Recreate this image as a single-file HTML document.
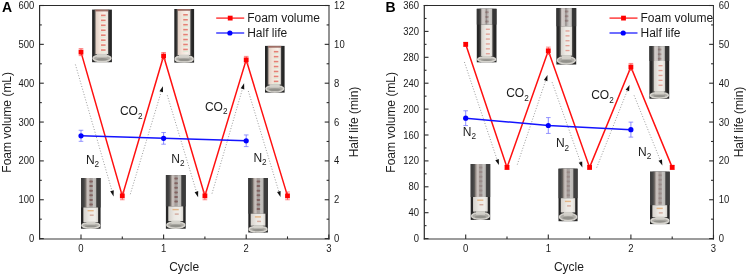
<!DOCTYPE html>
<html><head><meta charset="utf-8"><title>Foam volume and half life vs cycle</title>
<style>
html,body{margin:0;padding:0;background:#fff;}
body{width:747px;height:275px;overflow:hidden;font-family:"Liberation Sans",sans-serif;}
svg{display:block;filter:blur(0.3px);}
</style></head><body>
<svg width="747" height="275" viewBox="0 0 747 275" font-family='"Liberation Sans", sans-serif'><defs>
<linearGradient id="gFoamA" x1="0" x2="1" y1="0" y2="0">
  <stop offset="0" stop-color="#e2cfc4"/>
  <stop offset="0.35" stop-color="#f3e4da"/>
  <stop offset="0.75" stop-color="#f8f1ea"/>
  <stop offset="1" stop-color="#e6e0da"/>
</linearGradient>
<linearGradient id="gFoamB" x1="0" x2="1" y1="0" y2="0">
  <stop offset="0" stop-color="#d6d2cc"/>
  <stop offset="0.4" stop-color="#ece9e4"/>
  <stop offset="0.8" stop-color="#f0eee9"/>
  <stop offset="1" stop-color="#d8d5d0"/>
</linearGradient>
<linearGradient id="gEmpty" x1="0" x2="1" y1="0" y2="0">
  <stop offset="0" stop-color="#7a726c"/>
  <stop offset="0.2" stop-color="#c8c0bc"/>
  <stop offset="0.32" stop-color="#c4bcb8"/>
  <stop offset="0.42" stop-color="#a49c98"/>
  <stop offset="0.62" stop-color="#a8a2a0"/>
  <stop offset="0.72" stop-color="#c4c2bf"/>
  <stop offset="0.92" stop-color="#bab8b5"/>
  <stop offset="1" stop-color="#7a7876"/>
</linearGradient>
<linearGradient id="gEmptyL" x1="0" x2="1" y1="0" y2="0">
  <stop offset="0" stop-color="#b0aaa8"/>
  <stop offset="0.15" stop-color="#d2ccc9"/>
  <stop offset="0.35" stop-color="#c8c2bf"/>
  <stop offset="0.45" stop-color="#8a8482"/>
  <stop offset="0.55" stop-color="#b4aeac"/>
  <stop offset="0.75" stop-color="#d0cecb"/>
  <stop offset="0.92" stop-color="#c4c2bf"/>
  <stop offset="1" stop-color="#858381"/>
</linearGradient>
<linearGradient id="gWallL" x1="0" x2="1" y1="0" y2="0">
  <stop offset="0" stop-color="#555" stop-opacity="0"/>
  <stop offset="1" stop-color="#6a6662" stop-opacity="0.9"/>
</linearGradient>
<linearGradient id="gWallR" x1="0" x2="1" y1="0" y2="0">
  <stop offset="0" stop-color="#5a5856" stop-opacity="0.8"/>
  <stop offset="1" stop-color="#444" stop-opacity="0"/>
</linearGradient>
<linearGradient id="gBase" x1="0" x2="0" y1="0" y2="1">
  <stop offset="0" stop-color="#bcbab2"/>
  <stop offset="0.28" stop-color="#d6d4cc"/>
  <stop offset="0.55" stop-color="#9a9890"/>
  <stop offset="0.8" stop-color="#cccac2"/>
  <stop offset="1" stop-color="#9c9a94"/>
</linearGradient>
</defs><rect width="747" height="275" fill="#fff"/><g><rect x="92.1" y="9.6" width="19.8" height="52.6" fill="#262626"/><rect x="93.61" y="9.6" width="1.85" height="52.6" fill="url(#gWallL)"/><rect x="108.14" y="9.6" width="1.88" height="52.6" fill="url(#gWallR)"/><rect x="95.47" y="9.6" width="12.67" height="44.6" fill="url(#gFoamA)"/><rect x="101.04" y="14.6" width="4.56" height="1.6" fill="#dc5e50" opacity="0.75"/><rect x="100.79" y="16.8" width="5.07" height="1.2" fill="#cfe8cf" opacity="0.6"/><rect x="101.04" y="19.55" width="4.56" height="1.6" fill="#dc5e50" opacity="0.75"/><rect x="100.79" y="21.75" width="5.07" height="1.2" fill="#cfe8cf" opacity="0.6"/><rect x="101.04" y="24.5" width="4.56" height="1.6" fill="#dc5e50" opacity="0.75"/><rect x="100.79" y="26.7" width="5.07" height="1.2" fill="#cfe8cf" opacity="0.6"/><rect x="101.04" y="29.45" width="4.56" height="1.6" fill="#dc5e50" opacity="0.75"/><rect x="100.79" y="31.65" width="5.07" height="1.2" fill="#cfe8cf" opacity="0.6"/><rect x="101.04" y="34.4" width="4.56" height="1.6" fill="#dc5e50" opacity="0.75"/><rect x="100.79" y="36.6" width="5.07" height="1.2" fill="#cfe8cf" opacity="0.6"/><rect x="101.04" y="39.35" width="4.56" height="1.6" fill="#dc5e50" opacity="0.75"/><rect x="100.79" y="41.55" width="5.07" height="1.2" fill="#cfe8cf" opacity="0.6"/><rect x="101.04" y="44.3" width="4.56" height="1.6" fill="#dc5e50" opacity="0.75"/><rect x="100.79" y="46.5" width="5.07" height="1.2" fill="#cfe8cf" opacity="0.6"/><rect x="101.04" y="49.25" width="4.56" height="1.6" fill="#dc5e50" opacity="0.75"/><rect x="100.79" y="51.45" width="5.07" height="1.2" fill="#cfe8cf" opacity="0.6"/><rect x="95.47" y="9.6" width="12.67" height="1.8" fill="#7a3a32" opacity="0.7"/><ellipse cx="102" cy="58.36" rx="9" ry="3.3" fill="#aeaca6" stroke="#d6d4ce" stroke-width="1.5"/><rect x="96.73" y="53.7" width="10.14" height="3.6" fill="#d4d1cb" opacity="0.9"/><ellipse cx="102" cy="59.32" rx="5.94" ry="1.28" fill="#6a6864" opacity="0.4"/></g>
<g><rect x="174.3" y="9" width="19.8" height="53.6" fill="#262626"/><rect x="175.81" y="9" width="1.85" height="53.6" fill="url(#gWallL)"/><rect x="190.34" y="9" width="1.88" height="53.6" fill="url(#gWallR)"/><rect x="177.67" y="9" width="12.67" height="46" fill="url(#gFoamA)"/><rect x="183.24" y="14" width="4.56" height="1.6" fill="#dc5e50" opacity="0.75"/><rect x="182.99" y="16.2" width="5.07" height="1.2" fill="#cfe8cf" opacity="0.6"/><rect x="183.24" y="18.95" width="4.56" height="1.6" fill="#dc5e50" opacity="0.75"/><rect x="182.99" y="21.15" width="5.07" height="1.2" fill="#cfe8cf" opacity="0.6"/><rect x="183.24" y="23.9" width="4.56" height="1.6" fill="#dc5e50" opacity="0.75"/><rect x="182.99" y="26.1" width="5.07" height="1.2" fill="#cfe8cf" opacity="0.6"/><rect x="183.24" y="28.85" width="4.56" height="1.6" fill="#dc5e50" opacity="0.75"/><rect x="182.99" y="31.05" width="5.07" height="1.2" fill="#cfe8cf" opacity="0.6"/><rect x="183.24" y="33.8" width="4.56" height="1.6" fill="#dc5e50" opacity="0.75"/><rect x="182.99" y="36" width="5.07" height="1.2" fill="#cfe8cf" opacity="0.6"/><rect x="183.24" y="38.75" width="4.56" height="1.6" fill="#dc5e50" opacity="0.75"/><rect x="182.99" y="40.95" width="5.07" height="1.2" fill="#cfe8cf" opacity="0.6"/><rect x="183.24" y="43.7" width="4.56" height="1.6" fill="#dc5e50" opacity="0.75"/><rect x="182.99" y="45.9" width="5.07" height="1.2" fill="#cfe8cf" opacity="0.6"/><rect x="183.24" y="48.65" width="4.56" height="1.6" fill="#dc5e50" opacity="0.75"/><rect x="182.99" y="50.85" width="5.07" height="1.2" fill="#cfe8cf" opacity="0.6"/><rect x="177.67" y="9" width="12.67" height="1.8" fill="#7a3a32" opacity="0.7"/><ellipse cx="184.2" cy="58.95" rx="9" ry="3.1" fill="#aeaca6" stroke="#d6d4ce" stroke-width="1.5"/><rect x="178.93" y="54.5" width="10.14" height="3.42" fill="#d4d1cb" opacity="0.9"/><ellipse cx="184.2" cy="59.86" rx="5.94" ry="1.22" fill="#6a6864" opacity="0.4"/></g>
<g><rect x="265" y="45.9" width="19.6" height="46.7" fill="#262626"/><rect x="266.5" y="45.9" width="1.83" height="46.7" fill="url(#gWallL)"/><rect x="280.88" y="45.9" width="1.86" height="46.7" fill="url(#gWallR)"/><rect x="268.33" y="45.9" width="12.54" height="38.7" fill="url(#gFoamA)"/><rect x="273.85" y="50.9" width="4.52" height="1.6" fill="#dc5e50" opacity="0.75"/><rect x="273.6" y="53.1" width="5.02" height="1.2" fill="#cfe8cf" opacity="0.6"/><rect x="273.85" y="55.85" width="4.52" height="1.6" fill="#dc5e50" opacity="0.75"/><rect x="273.6" y="58.05" width="5.02" height="1.2" fill="#cfe8cf" opacity="0.6"/><rect x="273.85" y="60.8" width="4.52" height="1.6" fill="#dc5e50" opacity="0.75"/><rect x="273.6" y="63" width="5.02" height="1.2" fill="#cfe8cf" opacity="0.6"/><rect x="273.85" y="65.75" width="4.52" height="1.6" fill="#dc5e50" opacity="0.75"/><rect x="273.6" y="67.95" width="5.02" height="1.2" fill="#cfe8cf" opacity="0.6"/><rect x="273.85" y="70.7" width="4.52" height="1.6" fill="#dc5e50" opacity="0.75"/><rect x="273.6" y="72.9" width="5.02" height="1.2" fill="#cfe8cf" opacity="0.6"/><rect x="273.85" y="75.65" width="4.52" height="1.6" fill="#dc5e50" opacity="0.75"/><rect x="273.6" y="77.85" width="5.02" height="1.2" fill="#cfe8cf" opacity="0.6"/><rect x="273.85" y="80.6" width="4.52" height="1.6" fill="#dc5e50" opacity="0.75"/><rect x="273.6" y="82.8" width="5.02" height="1.2" fill="#cfe8cf" opacity="0.6"/><rect x="268.33" y="45.9" width="12.54" height="1.8" fill="#7a3a32" opacity="0.7"/><ellipse cx="274.8" cy="88.76" rx="8.9" ry="3.3" fill="#aeaca6" stroke="#d6d4ce" stroke-width="1.5"/><rect x="269.59" y="84.1" width="10.04" height="3.6" fill="#d4d1cb" opacity="0.9"/><ellipse cx="274.8" cy="89.72" rx="5.88" ry="1.28" fill="#6a6864" opacity="0.4"/></g>
<g><rect x="81" y="178" width="19.6" height="50.7" fill="#262626"/><rect x="82.94" y="178" width="2.37" height="50.7" fill="url(#gWallL)"/><rect x="96.48" y="178" width="2.06" height="50.7" fill="url(#gWallR)"/><rect x="81" y="178" width="19.6" height="29.5" fill="#3c3c3c"/><rect x="82.94" y="178" width="2.37" height="29.5" fill="url(#gWallL)"/><rect x="85.31" y="178" width="11.17" height="29.5" fill="url(#gEmpty)"/><rect x="89.33" y="180.5" width="3.58" height="2" rx="0.8" fill="#6a3c3a" opacity="0.6"/><rect x="89.33" y="185.1" width="3.58" height="2" rx="0.8" fill="#6a3c3a" opacity="0.6"/><rect x="89.33" y="189.7" width="3.58" height="2" rx="0.8" fill="#6a3c3a" opacity="0.6"/><rect x="89.33" y="194.3" width="3.58" height="2" rx="0.8" fill="#6a3c3a" opacity="0.6"/><rect x="89.33" y="198.9" width="3.58" height="2" rx="0.8" fill="#6a3c3a" opacity="0.6"/><rect x="89.33" y="203.5" width="3.58" height="2" rx="0.8" fill="#6a3c3a" opacity="0.6"/><rect x="83.37" y="207.5" width="14.76" height="14.5" fill="url(#gFoamB)"/><rect x="87.55" y="210" width="6.14" height="1.4" fill="#e0a060" opacity="0.7"/><rect x="89.78" y="214.5" width="3.91" height="1.4" fill="#c89080" opacity="0.7"/><ellipse cx="90.8" cy="225.48" rx="8.9" ry="2.65" fill="#aeaca6" stroke="#d6d4ce" stroke-width="1.5"/><rect x="86.43" y="221.5" width="8.94" height="3.01" fill="#d4d1cb" opacity="0.9"/><ellipse cx="90.8" cy="226.29" rx="5.88" ry="1.07" fill="#6a6864" opacity="0.4"/></g>
<g><rect x="165.9" y="175.1" width="19.8" height="53.6" fill="#262626"/><rect x="167.86" y="175.1" width="2.4" height="53.6" fill="url(#gWallL)"/><rect x="181.54" y="175.1" width="2.08" height="53.6" fill="url(#gWallR)"/><rect x="165.9" y="175.1" width="19.8" height="31.3" fill="#3c3c3c"/><rect x="167.86" y="175.1" width="2.4" height="31.3" fill="url(#gWallL)"/><rect x="170.26" y="175.1" width="11.29" height="31.3" fill="url(#gEmpty)"/><rect x="174.32" y="177.6" width="3.61" height="2" rx="0.8" fill="#6a3c3a" opacity="0.6"/><rect x="174.32" y="182.2" width="3.61" height="2" rx="0.8" fill="#6a3c3a" opacity="0.6"/><rect x="174.32" y="186.8" width="3.61" height="2" rx="0.8" fill="#6a3c3a" opacity="0.6"/><rect x="174.32" y="191.4" width="3.61" height="2" rx="0.8" fill="#6a3c3a" opacity="0.6"/><rect x="174.32" y="196" width="3.61" height="2" rx="0.8" fill="#6a3c3a" opacity="0.6"/><rect x="174.32" y="200.6" width="3.61" height="2" rx="0.8" fill="#6a3c3a" opacity="0.6"/><rect x="168.3" y="206.4" width="14.91" height="14.6" fill="url(#gFoamB)"/><rect x="172.51" y="208.9" width="6.21" height="1.4" fill="#e0a060" opacity="0.7"/><rect x="174.77" y="213.4" width="3.95" height="1.4" fill="#c89080" opacity="0.7"/><ellipse cx="175.8" cy="225" rx="9" ry="3.15" fill="#aeaca6" stroke="#d6d4ce" stroke-width="1.5"/><rect x="171.38" y="220.5" width="9.03" height="3.46" fill="#d4d1cb" opacity="0.9"/><ellipse cx="175.8" cy="225.93" rx="5.94" ry="1.23" fill="#6a6864" opacity="0.4"/></g>
<g><rect x="248.3" y="178" width="19.6" height="54.5" fill="#262626"/><rect x="250.24" y="178" width="2.37" height="54.5" fill="url(#gWallL)"/><rect x="263.78" y="178" width="2.06" height="54.5" fill="url(#gWallR)"/><rect x="248.3" y="178" width="19.6" height="35.7" fill="#3c3c3c"/><rect x="250.24" y="178" width="2.37" height="35.7" fill="url(#gWallL)"/><rect x="252.61" y="178" width="11.17" height="35.7" fill="url(#gEmpty)"/><rect x="256.63" y="180.5" width="3.58" height="2" rx="0.8" fill="#6a3c3a" opacity="0.6"/><rect x="256.63" y="185.1" width="3.58" height="2" rx="0.8" fill="#6a3c3a" opacity="0.6"/><rect x="256.63" y="189.7" width="3.58" height="2" rx="0.8" fill="#6a3c3a" opacity="0.6"/><rect x="256.63" y="194.3" width="3.58" height="2" rx="0.8" fill="#6a3c3a" opacity="0.6"/><rect x="256.63" y="198.9" width="3.58" height="2" rx="0.8" fill="#6a3c3a" opacity="0.6"/><rect x="256.63" y="203.5" width="3.58" height="2" rx="0.8" fill="#6a3c3a" opacity="0.6"/><rect x="256.63" y="208.1" width="3.58" height="2" rx="0.8" fill="#6a3c3a" opacity="0.6"/><rect x="250.67" y="213.7" width="14.76" height="12" fill="url(#gFoamB)"/><rect x="254.85" y="216.2" width="6.14" height="1.4" fill="#e0a060" opacity="0.7"/><rect x="257.08" y="220.7" width="3.91" height="1.4" fill="#c89080" opacity="0.7"/><ellipse cx="258.1" cy="229.24" rx="8.9" ry="2.7" fill="#aeaca6" stroke="#d6d4ce" stroke-width="1.5"/><rect x="253.73" y="225.2" width="8.94" height="3.06" fill="#d4d1cb" opacity="0.9"/><ellipse cx="258.1" cy="230.05" rx="5.88" ry="1.09" fill="#6a6864" opacity="0.4"/></g>
<line x1="39" y1="5.5" x2="329.55" y2="5.5" stroke="#2b2b2b" stroke-width="1.2" />
<line x1="39.6" y1="4.9" x2="39.6" y2="239.55" stroke="#2b2b2b" stroke-width="1.2" />
<line x1="39" y1="239" x2="329.55" y2="239" stroke="#3a3a3a" stroke-width="1.1" />
<line x1="329" y1="4.9" x2="329" y2="239.55" stroke="#3a3a3a" stroke-width="1.1" />
<line x1="39.6" y1="238.6" x2="43.8" y2="238.6" stroke="#2b2b2b" stroke-width="1.1" />
<text transform="matrix(0.95,0,0,1,1.72,0)" x="34.4" y="242.2" font-size="10" text-anchor="end" fill="#1a1a1a">0</text>
<line x1="39.6" y1="219.17" x2="41.8" y2="219.17" stroke="#2b2b2b" stroke-width="1.1" />
<line x1="39.6" y1="199.75" x2="43.8" y2="199.75" stroke="#2b2b2b" stroke-width="1.1" />
<text transform="matrix(0.95,0,0,1,1.72,0)" x="34.4" y="203.35" font-size="10" text-anchor="end" fill="#1a1a1a">100</text>
<line x1="39.6" y1="180.32" x2="41.8" y2="180.32" stroke="#2b2b2b" stroke-width="1.1" />
<line x1="39.6" y1="160.9" x2="43.8" y2="160.9" stroke="#2b2b2b" stroke-width="1.1" />
<text transform="matrix(0.95,0,0,1,1.72,0)" x="34.4" y="164.5" font-size="10" text-anchor="end" fill="#1a1a1a">200</text>
<line x1="39.6" y1="141.47" x2="41.8" y2="141.47" stroke="#2b2b2b" stroke-width="1.1" />
<line x1="39.6" y1="122.05" x2="43.8" y2="122.05" stroke="#2b2b2b" stroke-width="1.1" />
<text transform="matrix(0.95,0,0,1,1.72,0)" x="34.4" y="125.65" font-size="10" text-anchor="end" fill="#1a1a1a">300</text>
<line x1="39.6" y1="102.62" x2="41.8" y2="102.62" stroke="#2b2b2b" stroke-width="1.1" />
<line x1="39.6" y1="83.2" x2="43.8" y2="83.2" stroke="#2b2b2b" stroke-width="1.1" />
<text transform="matrix(0.95,0,0,1,1.72,0)" x="34.4" y="86.8" font-size="10" text-anchor="end" fill="#1a1a1a">400</text>
<line x1="39.6" y1="63.78" x2="41.8" y2="63.78" stroke="#2b2b2b" stroke-width="1.1" />
<line x1="39.6" y1="44.35" x2="43.8" y2="44.35" stroke="#2b2b2b" stroke-width="1.1" />
<text transform="matrix(0.95,0,0,1,1.72,0)" x="34.4" y="47.95" font-size="10" text-anchor="end" fill="#1a1a1a">500</text>
<line x1="39.6" y1="24.92" x2="41.8" y2="24.92" stroke="#2b2b2b" stroke-width="1.1" />
<line x1="39.6" y1="5.5" x2="43.8" y2="5.5" stroke="#2b2b2b" stroke-width="1.1" />
<text transform="matrix(0.95,0,0,1,1.72,0)" x="34.4" y="9.1" font-size="10" text-anchor="end" fill="#1a1a1a">600</text>
<line x1="329" y1="238.6" x2="324.7" y2="238.6" stroke="#2b2b2b" stroke-width="1.1" />
<text transform="matrix(0.95,0,0,1,16.71,0)" x="334.1" y="242.2" font-size="10" text-anchor="start" fill="#1a1a1a">0</text>
<line x1="329" y1="219.17" x2="326.6" y2="219.17" stroke="#2b2b2b" stroke-width="1.1" />
<line x1="329" y1="199.75" x2="324.7" y2="199.75" stroke="#2b2b2b" stroke-width="1.1" />
<text transform="matrix(0.95,0,0,1,16.71,0)" x="334.1" y="203.35" font-size="10" text-anchor="start" fill="#1a1a1a">2</text>
<line x1="329" y1="180.32" x2="326.6" y2="180.32" stroke="#2b2b2b" stroke-width="1.1" />
<line x1="329" y1="160.9" x2="324.7" y2="160.9" stroke="#2b2b2b" stroke-width="1.1" />
<text transform="matrix(0.95,0,0,1,16.71,0)" x="334.1" y="164.5" font-size="10" text-anchor="start" fill="#1a1a1a">4</text>
<line x1="329" y1="141.47" x2="326.6" y2="141.47" stroke="#2b2b2b" stroke-width="1.1" />
<line x1="329" y1="122.05" x2="324.7" y2="122.05" stroke="#2b2b2b" stroke-width="1.1" />
<text transform="matrix(0.95,0,0,1,16.71,0)" x="334.1" y="125.65" font-size="10" text-anchor="start" fill="#1a1a1a">6</text>
<line x1="329" y1="102.62" x2="326.6" y2="102.62" stroke="#2b2b2b" stroke-width="1.1" />
<line x1="329" y1="83.2" x2="324.7" y2="83.2" stroke="#2b2b2b" stroke-width="1.1" />
<text transform="matrix(0.95,0,0,1,16.71,0)" x="334.1" y="86.8" font-size="10" text-anchor="start" fill="#1a1a1a">8</text>
<line x1="329" y1="63.77" x2="326.6" y2="63.77" stroke="#2b2b2b" stroke-width="1.1" />
<line x1="329" y1="44.35" x2="324.7" y2="44.35" stroke="#2b2b2b" stroke-width="1.1" />
<text transform="matrix(0.95,0,0,1,16.71,0)" x="334.1" y="47.95" font-size="10" text-anchor="start" fill="#1a1a1a">10</text>
<line x1="329" y1="24.93" x2="326.6" y2="24.93" stroke="#2b2b2b" stroke-width="1.1" />
<line x1="329" y1="5.5" x2="324.7" y2="5.5" stroke="#2b2b2b" stroke-width="1.1" />
<text transform="matrix(0.95,0,0,1,16.71,0)" x="334.1" y="9.1" font-size="10" text-anchor="start" fill="#1a1a1a">12</text>
<line x1="81" y1="239" x2="81" y2="234.6" stroke="#2b2b2b" stroke-width="1.1" />
<text transform="matrix(0.95,0,0,1,4.05,0)" x="81" y="251.8" font-size="10" text-anchor="middle" fill="#1a1a1a">0</text>
<line x1="163.6" y1="239" x2="163.6" y2="234.6" stroke="#2b2b2b" stroke-width="1.1" />
<text transform="matrix(0.95,0,0,1,8.18,0)" x="163.6" y="251.8" font-size="10" text-anchor="middle" fill="#1a1a1a">1</text>
<line x1="246.2" y1="239" x2="246.2" y2="234.6" stroke="#2b2b2b" stroke-width="1.1" />
<text transform="matrix(0.95,0,0,1,12.31,0)" x="246.2" y="251.8" font-size="10" text-anchor="middle" fill="#1a1a1a">2</text>
<line x1="328.8" y1="239" x2="328.8" y2="234.6" stroke="#2b2b2b" stroke-width="1.1" />
<text transform="matrix(0.95,0,0,1,16.44,0)" x="328.8" y="251.8" font-size="10" text-anchor="middle" fill="#1a1a1a">3</text>
<line x1="122.3" y1="239" x2="122.3" y2="236.4" stroke="#2b2b2b" stroke-width="1.1" />
<line x1="204.9" y1="239" x2="204.9" y2="236.4" stroke="#2b2b2b" stroke-width="1.1" />
<line x1="287.5" y1="239" x2="287.5" y2="236.4" stroke="#2b2b2b" stroke-width="1.1" />
<text x="184.2" y="271.3" font-size="12" text-anchor="middle" font-weight="normal" fill="#1a1a1a" >Cycle</text>
<text transform="translate(10.9,122.3) rotate(-90)" font-size="12" text-anchor="middle" fill="#1a1a1a">Foam volume (mL)</text>
<text transform="translate(358.3,122.0) rotate(-90)" font-size="12" text-anchor="middle" fill="#1a1a1a">Half life (min)</text>
<text x="1.9" y="11.5" font-size="14" text-anchor="start" font-weight="bold" fill="#000" >A</text>
<line x1="75.4" y1="64.5" x2="111.99" y2="190.83" stroke="#666" stroke-width="0.65" stroke-dasharray="1 1.8"/>
<polygon points="113.6,196.4 110.21,191.34 113.76,190.31" fill="#111"/>
<line x1="130.3" y1="194.2" x2="161.22" y2="91.75" stroke="#666" stroke-width="0.65" stroke-dasharray="1 1.8"/>
<polygon points="162.9,86.2 163,92.29 159.45,91.22" fill="#111"/>
<line x1="167.3" y1="95.3" x2="196.42" y2="191.65" stroke="#666" stroke-width="0.65" stroke-dasharray="1 1.8"/>
<polygon points="198.1,197.2 194.65,192.18 198.19,191.11" fill="#111"/>
<line x1="212" y1="193.6" x2="242.48" y2="88.87" stroke="#666" stroke-width="0.65" stroke-dasharray="1 1.8"/>
<polygon points="244.1,83.3 244.26,89.39 240.7,88.35" fill="#111"/>
<line x1="248.3" y1="91" x2="278.81" y2="191.45" stroke="#666" stroke-width="0.65" stroke-dasharray="1 1.8"/>
<polygon points="280.5,197 277.04,191.99 280.58,190.91" fill="#111"/>
<text x="119.9" y="115.1" font-size="12" fill="#1a1a1a">CO<tspan font-size="8.2" dy="3.4">2</tspan></text>
<text x="204.9" y="110.6" font-size="12" fill="#1a1a1a">CO<tspan font-size="8.2" dy="3.4">2</tspan></text>
<text x="85.9" y="163.8" font-size="12" fill="#1a1a1a">N<tspan font-size="8.2" dy="3.4">2</tspan></text>
<text x="171.3" y="162.8" font-size="12" fill="#1a1a1a">N<tspan font-size="8.2" dy="3.4">2</tspan></text>
<text x="253.4" y="161.7" font-size="12" fill="#1a1a1a">N<tspan font-size="8.2" dy="3.4">2</tspan></text>
<polyline points="81,52.12 122.3,195.87 163.6,56 204.9,195.87 246.2,59.89 287.5,195.87" fill="none" stroke="#ff1010" stroke-width="1.5" stroke-linejoin="miter"/>
<line x1="81" y1="48.62" x2="81" y2="55.62" stroke="#ff4040" stroke-width="0.7" />
<line x1="78.7" y1="48.62" x2="83.3" y2="48.62" stroke="#ff5050" stroke-width="0.7" />
<line x1="78.7" y1="55.62" x2="83.3" y2="55.62" stroke="#ff5050" stroke-width="0.7" />
<rect x="78.6" y="49.72" width="4.8" height="4.8" fill="#ff0000"/>
<line x1="122.3" y1="191.98" x2="122.3" y2="199.75" stroke="#ff4040" stroke-width="0.7" />
<line x1="120" y1="191.98" x2="124.6" y2="191.98" stroke="#ff5050" stroke-width="0.7" />
<line x1="120" y1="199.75" x2="124.6" y2="199.75" stroke="#ff5050" stroke-width="0.7" />
<rect x="119.9" y="193.47" width="4.8" height="4.8" fill="#ff0000"/>
<line x1="163.6" y1="52.51" x2="163.6" y2="59.5" stroke="#ff4040" stroke-width="0.7" />
<line x1="161.3" y1="52.51" x2="165.9" y2="52.51" stroke="#ff5050" stroke-width="0.7" />
<line x1="161.3" y1="59.5" x2="165.9" y2="59.5" stroke="#ff5050" stroke-width="0.7" />
<rect x="161.2" y="53.6" width="4.8" height="4.8" fill="#ff0000"/>
<line x1="204.9" y1="191.98" x2="204.9" y2="199.75" stroke="#ff4040" stroke-width="0.7" />
<line x1="202.6" y1="191.98" x2="207.2" y2="191.98" stroke="#ff5050" stroke-width="0.7" />
<line x1="202.6" y1="199.75" x2="207.2" y2="199.75" stroke="#ff5050" stroke-width="0.7" />
<rect x="202.5" y="193.47" width="4.8" height="4.8" fill="#ff0000"/>
<line x1="246.2" y1="56.39" x2="246.2" y2="63.39" stroke="#ff4040" stroke-width="0.7" />
<line x1="243.9" y1="56.39" x2="248.5" y2="56.39" stroke="#ff5050" stroke-width="0.7" />
<line x1="243.9" y1="63.39" x2="248.5" y2="63.39" stroke="#ff5050" stroke-width="0.7" />
<rect x="243.8" y="57.49" width="4.8" height="4.8" fill="#ff0000"/>
<line x1="287.5" y1="191.98" x2="287.5" y2="199.75" stroke="#ff4040" stroke-width="0.7" />
<line x1="285.2" y1="191.98" x2="289.8" y2="191.98" stroke="#ff5050" stroke-width="0.7" />
<line x1="285.2" y1="199.75" x2="289.8" y2="199.75" stroke="#ff5050" stroke-width="0.7" />
<rect x="285.1" y="193.47" width="4.8" height="4.8" fill="#ff0000"/>
<polyline points="81,135.78 163.6,138.37 246.2,140.78" fill="none" stroke="#1414ff" stroke-width="1.5"/>
<line x1="81" y1="130.25" x2="81" y2="141.32" stroke="#5a5aff" stroke-width="0.7" />
<line x1="78.7" y1="130.25" x2="83.3" y2="130.25" stroke="#6a6aff" stroke-width="0.7" />
<line x1="78.7" y1="141.32" x2="83.3" y2="141.32" stroke="#6a6aff" stroke-width="0.7" />
<circle cx="81" cy="135.78" r="2.6" fill="#0000ff"/>
<line x1="163.6" y1="132.54" x2="163.6" y2="144.19" stroke="#5a5aff" stroke-width="0.7" />
<line x1="161.3" y1="132.54" x2="165.9" y2="132.54" stroke="#6a6aff" stroke-width="0.7" />
<line x1="161.3" y1="144.19" x2="165.9" y2="144.19" stroke="#6a6aff" stroke-width="0.7" />
<circle cx="163.6" cy="138.37" r="2.6" fill="#0000ff"/>
<line x1="246.2" y1="134.95" x2="246.2" y2="146.6" stroke="#5a5aff" stroke-width="0.7" />
<line x1="243.9" y1="134.95" x2="248.5" y2="134.95" stroke="#6a6aff" stroke-width="0.7" />
<line x1="243.9" y1="146.6" x2="248.5" y2="146.6" stroke="#6a6aff" stroke-width="0.7" />
<circle cx="246.2" cy="140.78" r="2.6" fill="#0000ff"/>
<line x1="216.2" y1="18.1" x2="244.2" y2="18.1" stroke="#ff2020" stroke-width="1.3" />
<rect x="227.8" y="15.7" width="4.8" height="4.8" fill="#ff0000"/>
<text x="247.2" y="22.35" font-size="12" text-anchor="start" font-weight="normal" fill="#1a1a1a" >Foam volume</text>
<line x1="216.2" y1="33" x2="244.2" y2="33" stroke="#2020ff" stroke-width="1.3" />
<circle cx="229.9" cy="33" r="2.6" fill="#0000ff"/>
<text x="247.2" y="37.3" font-size="12" text-anchor="start" font-weight="normal" fill="#1a1a1a" >Half life</text>
<g><rect x="476.8" y="8.8" width="19.7" height="53.5" fill="#262626"/><rect x="478.75" y="8.8" width="2.38" height="53.5" fill="url(#gWallL)"/><rect x="492.36" y="8.8" width="2.07" height="53.5" fill="url(#gWallR)"/><rect x="476.8" y="8.8" width="19.7" height="15.8" fill="#363636"/><rect x="478.75" y="8.8" width="2.38" height="15.8" fill="url(#gWallL)"/><rect x="481.13" y="8.8" width="11.23" height="15.8" fill="url(#gEmptyL)"/><rect x="485.18" y="11.3" width="3.59" height="2" rx="0.8" fill="#6a3c3a" opacity="0.35"/><rect x="485.18" y="15.9" width="3.59" height="2" rx="0.8" fill="#6a3c3a" opacity="0.35"/><rect x="485.18" y="20.5" width="3.59" height="2" rx="0.8" fill="#6a3c3a" opacity="0.35"/><rect x="481.13" y="24.6" width="11.23" height="31.7" fill="url(#gFoamB)"/><rect x="485.85" y="28.6" width="4.04" height="1.3" fill="#d86a5c" opacity="0.6"/><rect x="485.85" y="33.5" width="4.04" height="1.3" fill="#d86a5c" opacity="0.6"/><rect x="485.85" y="38.4" width="4.04" height="1.3" fill="#d86a5c" opacity="0.6"/><rect x="485.85" y="43.3" width="4.04" height="1.3" fill="#d86a5c" opacity="0.6"/><rect x="485.85" y="48.2" width="4.04" height="1.3" fill="#d86a5c" opacity="0.6"/><rect x="485.85" y="53.1" width="4.04" height="1.3" fill="#d86a5c" opacity="0.6"/><ellipse cx="486.65" cy="59.42" rx="8.95" ry="2.3" fill="#aeaca6" stroke="#d6d4ce" stroke-width="1.5"/><rect x="482.26" y="55.8" width="8.98" height="2.7" fill="#d4d1cb" opacity="0.9"/><ellipse cx="486.65" cy="60.14" rx="5.91" ry="0.96" fill="#6a6864" opacity="0.4"/></g>
<g><rect x="556.4" y="8.1" width="19.8" height="56.4" fill="#262626"/><rect x="558.36" y="8.1" width="2.4" height="56.4" fill="url(#gWallL)"/><rect x="572.04" y="8.1" width="2.08" height="56.4" fill="url(#gWallR)"/><rect x="556.4" y="8.1" width="19.8" height="18.2" fill="#363636"/><rect x="558.36" y="8.1" width="2.4" height="18.2" fill="url(#gWallL)"/><rect x="560.76" y="8.1" width="11.29" height="18.2" fill="url(#gEmptyL)"/><rect x="564.82" y="10.6" width="3.61" height="2" rx="0.8" fill="#6a3c3a" opacity="0.35"/><rect x="564.82" y="15.2" width="3.61" height="2" rx="0.8" fill="#6a3c3a" opacity="0.35"/><rect x="564.82" y="19.8" width="3.61" height="2" rx="0.8" fill="#6a3c3a" opacity="0.35"/><rect x="560.76" y="26.3" width="11.29" height="29.4" fill="url(#gFoamB)"/><rect x="565.5" y="30.3" width="4.06" height="1.3" fill="#d86a5c" opacity="0.6"/><rect x="565.5" y="35.2" width="4.06" height="1.3" fill="#d86a5c" opacity="0.6"/><rect x="565.5" y="40.1" width="4.06" height="1.3" fill="#d86a5c" opacity="0.6"/><rect x="565.5" y="45" width="4.06" height="1.3" fill="#d86a5c" opacity="0.6"/><rect x="565.5" y="49.9" width="4.06" height="1.3" fill="#d86a5c" opacity="0.6"/><ellipse cx="566.3" cy="60.28" rx="9" ry="3.7" fill="#aeaca6" stroke="#d6d4ce" stroke-width="1.5"/><rect x="561.88" y="55.2" width="9.03" height="3.96" fill="#d4d1cb" opacity="0.9"/><ellipse cx="566.3" cy="61.33" rx="5.94" ry="1.41" fill="#6a6864" opacity="0.4"/></g>
<g><rect x="649.4" y="46.1" width="19.8" height="52.6" fill="#262626"/><rect x="651.36" y="46.1" width="2.4" height="52.6" fill="url(#gWallL)"/><rect x="665.04" y="46.1" width="2.08" height="52.6" fill="url(#gWallR)"/><rect x="649.4" y="46.1" width="19.8" height="14.9" fill="#363636"/><rect x="651.36" y="46.1" width="2.4" height="14.9" fill="url(#gWallL)"/><rect x="653.76" y="46.1" width="11.29" height="14.9" fill="url(#gEmptyL)"/><rect x="657.82" y="48.6" width="3.61" height="2" rx="0.8" fill="#6a3c3a" opacity="0.35"/><rect x="657.82" y="53.2" width="3.61" height="2" rx="0.8" fill="#6a3c3a" opacity="0.35"/><rect x="657.82" y="57.8" width="3.61" height="2" rx="0.8" fill="#6a3c3a" opacity="0.35"/><rect x="653.76" y="61" width="11.29" height="30.6" fill="url(#gFoamB)"/><rect x="658.5" y="65" width="4.06" height="1.3" fill="#d86a5c" opacity="0.6"/><rect x="658.5" y="69.9" width="4.06" height="1.3" fill="#d86a5c" opacity="0.6"/><rect x="658.5" y="74.8" width="4.06" height="1.3" fill="#d86a5c" opacity="0.6"/><rect x="658.5" y="79.7" width="4.06" height="1.3" fill="#d86a5c" opacity="0.6"/><rect x="658.5" y="84.6" width="4.06" height="1.3" fill="#d86a5c" opacity="0.6"/><ellipse cx="659.3" cy="95.29" rx="9" ry="2.85" fill="#aeaca6" stroke="#d6d4ce" stroke-width="1.5"/><rect x="654.88" y="91.1" width="9.03" height="3.2" fill="#d4d1cb" opacity="0.9"/><ellipse cx="659.3" cy="96.14" rx="5.94" ry="1.14" fill="#6a6864" opacity="0.4"/></g>
<g><rect x="470.7" y="164" width="19.5" height="55.9" fill="#262626"/><rect x="472.63" y="164" width="2.36" height="55.9" fill="url(#gWallL)"/><rect x="486.1" y="164" width="2.05" height="55.9" fill="url(#gWallR)"/><rect x="470.7" y="164" width="19.5" height="33" fill="#404040"/><rect x="472.63" y="164" width="2.36" height="33" fill="url(#gWallL)"/><rect x="474.99" y="164" width="11.12" height="33" fill="url(#gEmpty)"/><rect x="478.99" y="166.5" width="3.56" height="2" rx="0.8" fill="#6a3c3a" opacity="0.2"/><rect x="478.99" y="171.1" width="3.56" height="2" rx="0.8" fill="#6a3c3a" opacity="0.2"/><rect x="478.99" y="175.7" width="3.56" height="2" rx="0.8" fill="#6a3c3a" opacity="0.2"/><rect x="478.99" y="180.3" width="3.56" height="2" rx="0.8" fill="#6a3c3a" opacity="0.2"/><rect x="478.99" y="184.9" width="3.56" height="2" rx="0.8" fill="#6a3c3a" opacity="0.2"/><rect x="478.99" y="189.5" width="3.56" height="2" rx="0.8" fill="#6a3c3a" opacity="0.2"/><rect x="478.99" y="194.1" width="3.56" height="2" rx="0.8" fill="#6a3c3a" opacity="0.2"/><rect x="473.06" y="197" width="14.68" height="14.6" fill="url(#gFoamB)"/><rect x="477.21" y="199.5" width="6.11" height="1.4" fill="#e0a060" opacity="0.7"/><rect x="479.44" y="204" width="3.89" height="1.4" fill="#c89080" opacity="0.7"/><ellipse cx="480.45" cy="215.92" rx="8.85" ry="3.45" fill="#aeaca6" stroke="#d6d4ce" stroke-width="1.5"/><rect x="476.1" y="211.1" width="8.89" height="3.74" fill="#d4d1cb" opacity="0.9"/><ellipse cx="480.45" cy="216.91" rx="5.85" ry="1.33" fill="#6a6864" opacity="0.4"/></g>
<g><rect x="558.5" y="168.7" width="19.1" height="52.5" fill="#262626"/><rect x="560.39" y="168.7" width="2.31" height="52.5" fill="url(#gWallL)"/><rect x="573.59" y="168.7" width="2.01" height="52.5" fill="url(#gWallR)"/><rect x="558.5" y="168.7" width="19.1" height="29.5" fill="#404040"/><rect x="560.39" y="168.7" width="2.31" height="29.5" fill="url(#gWallL)"/><rect x="562.7" y="168.7" width="10.89" height="29.5" fill="url(#gEmpty)"/><rect x="566.62" y="171.2" width="3.48" height="2" rx="0.8" fill="#6a3c3a" opacity="0.2"/><rect x="566.62" y="175.8" width="3.48" height="2" rx="0.8" fill="#6a3c3a" opacity="0.2"/><rect x="566.62" y="180.4" width="3.48" height="2" rx="0.8" fill="#6a3c3a" opacity="0.2"/><rect x="566.62" y="185" width="3.48" height="2" rx="0.8" fill="#6a3c3a" opacity="0.2"/><rect x="566.62" y="189.6" width="3.48" height="2" rx="0.8" fill="#6a3c3a" opacity="0.2"/><rect x="566.62" y="194.2" width="3.48" height="2" rx="0.8" fill="#6a3c3a" opacity="0.2"/><rect x="560.81" y="198.2" width="14.38" height="14.2" fill="url(#gFoamB)"/><rect x="564.88" y="200.7" width="5.99" height="1.4" fill="#e0a060" opacity="0.7"/><rect x="567.06" y="205.2" width="3.81" height="1.4" fill="#c89080" opacity="0.7"/><ellipse cx="568.05" cy="216.98" rx="8.65" ry="3.7" fill="#aeaca6" stroke="#d6d4ce" stroke-width="1.5"/><rect x="563.79" y="211.9" width="8.71" height="3.96" fill="#d4d1cb" opacity="0.9"/><ellipse cx="568.05" cy="218.03" rx="5.73" ry="1.41" fill="#6a6864" opacity="0.4"/></g>
<g><rect x="650" y="171.7" width="19.7" height="52.4" fill="#262626"/><rect x="651.95" y="171.7" width="2.38" height="52.4" fill="url(#gWallL)"/><rect x="665.56" y="171.7" width="2.07" height="52.4" fill="url(#gWallR)"/><rect x="650" y="171.7" width="19.7" height="33.5" fill="#404040"/><rect x="651.95" y="171.7" width="2.38" height="33.5" fill="url(#gWallL)"/><rect x="654.33" y="171.7" width="11.23" height="33.5" fill="url(#gEmpty)"/><rect x="658.38" y="174.2" width="3.59" height="2" rx="0.8" fill="#6a3c3a" opacity="0.2"/><rect x="658.38" y="178.8" width="3.59" height="2" rx="0.8" fill="#6a3c3a" opacity="0.2"/><rect x="658.38" y="183.4" width="3.59" height="2" rx="0.8" fill="#6a3c3a" opacity="0.2"/><rect x="658.38" y="188" width="3.59" height="2" rx="0.8" fill="#6a3c3a" opacity="0.2"/><rect x="658.38" y="192.6" width="3.59" height="2" rx="0.8" fill="#6a3c3a" opacity="0.2"/><rect x="658.38" y="197.2" width="3.59" height="2" rx="0.8" fill="#6a3c3a" opacity="0.2"/><rect x="658.38" y="201.8" width="3.59" height="2" rx="0.8" fill="#6a3c3a" opacity="0.2"/><rect x="652.38" y="205.2" width="14.83" height="11.8" fill="url(#gFoamB)"/><rect x="656.58" y="207.7" width="6.18" height="1.4" fill="#e0a060" opacity="0.7"/><rect x="658.83" y="212.2" width="3.93" height="1.4" fill="#c89080" opacity="0.7"/><ellipse cx="659.85" cy="220.69" rx="8.95" ry="2.85" fill="#aeaca6" stroke="#d6d4ce" stroke-width="1.5"/><rect x="655.46" y="216.5" width="8.98" height="3.19" fill="#d4d1cb" opacity="0.9"/><ellipse cx="659.85" cy="221.54" rx="5.91" ry="1.14" fill="#6a6864" opacity="0.4"/></g>
<line x1="423.7" y1="5.5" x2="714" y2="5.5" stroke="#2b2b2b" stroke-width="1.2" />
<line x1="424.3" y1="4.9" x2="424.3" y2="239.55" stroke="#2b2b2b" stroke-width="1.2" />
<line x1="423.7" y1="239" x2="714" y2="239" stroke="#3a3a3a" stroke-width="1.1" />
<line x1="713.45" y1="4.9" x2="713.45" y2="239.55" stroke="#3a3a3a" stroke-width="1.1" />
<line x1="424.3" y1="238.6" x2="428.5" y2="238.6" stroke="#2b2b2b" stroke-width="1.1" />
<text transform="matrix(0.95,0,0,1,20.96,0)" x="419.1" y="242.2" font-size="10" text-anchor="end" fill="#1a1a1a">0</text>
<line x1="424.3" y1="225.65" x2="426.5" y2="225.65" stroke="#2b2b2b" stroke-width="1.1" />
<line x1="424.3" y1="212.7" x2="428.5" y2="212.7" stroke="#2b2b2b" stroke-width="1.1" />
<text transform="matrix(0.95,0,0,1,20.96,0)" x="419.1" y="216.3" font-size="10" text-anchor="end" fill="#1a1a1a">40</text>
<line x1="424.3" y1="199.75" x2="426.5" y2="199.75" stroke="#2b2b2b" stroke-width="1.1" />
<line x1="424.3" y1="186.8" x2="428.5" y2="186.8" stroke="#2b2b2b" stroke-width="1.1" />
<text transform="matrix(0.95,0,0,1,20.96,0)" x="419.1" y="190.4" font-size="10" text-anchor="end" fill="#1a1a1a">80</text>
<line x1="424.3" y1="173.85" x2="426.5" y2="173.85" stroke="#2b2b2b" stroke-width="1.1" />
<line x1="424.3" y1="160.9" x2="428.5" y2="160.9" stroke="#2b2b2b" stroke-width="1.1" />
<text transform="matrix(0.95,0,0,1,20.96,0)" x="419.1" y="164.5" font-size="10" text-anchor="end" fill="#1a1a1a">120</text>
<line x1="424.3" y1="147.95" x2="426.5" y2="147.95" stroke="#2b2b2b" stroke-width="1.1" />
<line x1="424.3" y1="135" x2="428.5" y2="135" stroke="#2b2b2b" stroke-width="1.1" />
<text transform="matrix(0.95,0,0,1,20.96,0)" x="419.1" y="138.6" font-size="10" text-anchor="end" fill="#1a1a1a">160</text>
<line x1="424.3" y1="122.05" x2="426.5" y2="122.05" stroke="#2b2b2b" stroke-width="1.1" />
<line x1="424.3" y1="109.1" x2="428.5" y2="109.1" stroke="#2b2b2b" stroke-width="1.1" />
<text transform="matrix(0.95,0,0,1,20.96,0)" x="419.1" y="112.7" font-size="10" text-anchor="end" fill="#1a1a1a">200</text>
<line x1="424.3" y1="96.15" x2="426.5" y2="96.15" stroke="#2b2b2b" stroke-width="1.1" />
<line x1="424.3" y1="83.2" x2="428.5" y2="83.2" stroke="#2b2b2b" stroke-width="1.1" />
<text transform="matrix(0.95,0,0,1,20.96,0)" x="419.1" y="86.8" font-size="10" text-anchor="end" fill="#1a1a1a">240</text>
<line x1="424.3" y1="70.25" x2="426.5" y2="70.25" stroke="#2b2b2b" stroke-width="1.1" />
<line x1="424.3" y1="57.3" x2="428.5" y2="57.3" stroke="#2b2b2b" stroke-width="1.1" />
<text transform="matrix(0.95,0,0,1,20.96,0)" x="419.1" y="60.9" font-size="10" text-anchor="end" fill="#1a1a1a">280</text>
<line x1="424.3" y1="44.35" x2="426.5" y2="44.35" stroke="#2b2b2b" stroke-width="1.1" />
<line x1="424.3" y1="31.4" x2="428.5" y2="31.4" stroke="#2b2b2b" stroke-width="1.1" />
<text transform="matrix(0.95,0,0,1,20.96,0)" x="419.1" y="35" font-size="10" text-anchor="end" fill="#1a1a1a">320</text>
<line x1="424.3" y1="18.45" x2="426.5" y2="18.45" stroke="#2b2b2b" stroke-width="1.1" />
<line x1="424.3" y1="5.5" x2="428.5" y2="5.5" stroke="#2b2b2b" stroke-width="1.1" />
<text transform="matrix(0.95,0,0,1,20.96,0)" x="419.1" y="9.1" font-size="10" text-anchor="end" fill="#1a1a1a">360</text>
<line x1="713.45" y1="238.6" x2="709.15" y2="238.6" stroke="#2b2b2b" stroke-width="1.1" />
<text transform="matrix(0.95,0,0,1,35.94,0)" x="718.8" y="242.2" font-size="10" text-anchor="start" fill="#1a1a1a">0</text>
<line x1="713.45" y1="219.17" x2="711.05" y2="219.17" stroke="#2b2b2b" stroke-width="1.1" />
<line x1="713.45" y1="199.75" x2="709.15" y2="199.75" stroke="#2b2b2b" stroke-width="1.1" />
<text transform="matrix(0.95,0,0,1,35.94,0)" x="718.8" y="203.35" font-size="10" text-anchor="start" fill="#1a1a1a">10</text>
<line x1="713.45" y1="180.32" x2="711.05" y2="180.32" stroke="#2b2b2b" stroke-width="1.1" />
<line x1="713.45" y1="160.9" x2="709.15" y2="160.9" stroke="#2b2b2b" stroke-width="1.1" />
<text transform="matrix(0.95,0,0,1,35.94,0)" x="718.8" y="164.5" font-size="10" text-anchor="start" fill="#1a1a1a">20</text>
<line x1="713.45" y1="141.47" x2="711.05" y2="141.47" stroke="#2b2b2b" stroke-width="1.1" />
<line x1="713.45" y1="122.05" x2="709.15" y2="122.05" stroke="#2b2b2b" stroke-width="1.1" />
<text transform="matrix(0.95,0,0,1,35.94,0)" x="718.8" y="125.65" font-size="10" text-anchor="start" fill="#1a1a1a">30</text>
<line x1="713.45" y1="102.62" x2="711.05" y2="102.62" stroke="#2b2b2b" stroke-width="1.1" />
<line x1="713.45" y1="83.2" x2="709.15" y2="83.2" stroke="#2b2b2b" stroke-width="1.1" />
<text transform="matrix(0.95,0,0,1,35.94,0)" x="718.8" y="86.8" font-size="10" text-anchor="start" fill="#1a1a1a">40</text>
<line x1="713.45" y1="63.78" x2="711.05" y2="63.78" stroke="#2b2b2b" stroke-width="1.1" />
<line x1="713.45" y1="44.35" x2="709.15" y2="44.35" stroke="#2b2b2b" stroke-width="1.1" />
<text transform="matrix(0.95,0,0,1,35.94,0)" x="718.8" y="47.95" font-size="10" text-anchor="start" fill="#1a1a1a">50</text>
<line x1="713.45" y1="24.92" x2="711.05" y2="24.92" stroke="#2b2b2b" stroke-width="1.1" />
<line x1="713.45" y1="5.5" x2="709.15" y2="5.5" stroke="#2b2b2b" stroke-width="1.1" />
<text transform="matrix(0.95,0,0,1,35.94,0)" x="718.8" y="9.1" font-size="10" text-anchor="start" fill="#1a1a1a">60</text>
<line x1="465.7" y1="239" x2="465.7" y2="234.6" stroke="#2b2b2b" stroke-width="1.1" />
<text transform="matrix(0.95,0,0,1,23.29,0)" x="465.7" y="251.8" font-size="10" text-anchor="middle" fill="#1a1a1a">0</text>
<line x1="548.3" y1="239" x2="548.3" y2="234.6" stroke="#2b2b2b" stroke-width="1.1" />
<text transform="matrix(0.95,0,0,1,27.42,0)" x="548.3" y="251.8" font-size="10" text-anchor="middle" fill="#1a1a1a">1</text>
<line x1="630.9" y1="239" x2="630.9" y2="234.6" stroke="#2b2b2b" stroke-width="1.1" />
<text transform="matrix(0.95,0,0,1,31.55,0)" x="630.9" y="251.8" font-size="10" text-anchor="middle" fill="#1a1a1a">2</text>
<line x1="713.5" y1="239" x2="713.5" y2="234.6" stroke="#2b2b2b" stroke-width="1.1" />
<text transform="matrix(0.95,0,0,1,35.68,0)" x="713.5" y="251.8" font-size="10" text-anchor="middle" fill="#1a1a1a">3</text>
<line x1="507" y1="239" x2="507" y2="236.4" stroke="#2b2b2b" stroke-width="1.1" />
<line x1="589.6" y1="239" x2="589.6" y2="236.4" stroke="#2b2b2b" stroke-width="1.1" />
<line x1="672.2" y1="239" x2="672.2" y2="236.4" stroke="#2b2b2b" stroke-width="1.1" />
<text x="568.9" y="271.3" font-size="12" text-anchor="middle" font-weight="normal" fill="#1a1a1a" >Cycle</text>
<text transform="translate(395.2,122.3) rotate(-90)" font-size="12" text-anchor="middle" fill="#1a1a1a">Foam volume (mL)</text>
<text transform="translate(742.6,122.0) rotate(-90)" font-size="12" text-anchor="middle" fill="#1a1a1a">Half life (min)</text>
<text x="385.5" y="11.5" font-size="14" text-anchor="start" font-weight="bold" fill="#000" >B</text>
<line x1="464.4" y1="62" x2="497.06" y2="159.6" stroke="#666" stroke-width="0.65" stroke-dasharray="1 1.8"/>
<polygon points="498.9,165.1 495.31,160.19 498.81,159.01" fill="#111"/>
<line x1="517.3" y1="164.6" x2="545.65" y2="80.6" stroke="#666" stroke-width="0.65" stroke-dasharray="1 1.8"/>
<polygon points="547.5,75.1 547.4,81.19 543.89,80" fill="#111"/>
<line x1="552.1" y1="82.2" x2="580.46" y2="162.03" stroke="#666" stroke-width="0.65" stroke-dasharray="1 1.8"/>
<polygon points="582.4,167.5 578.72,162.65 582.2,161.42" fill="#111"/>
<line x1="596.7" y1="167.6" x2="627.36" y2="90.49" stroke="#666" stroke-width="0.65" stroke-dasharray="1 1.8"/>
<polygon points="629.5,85.1 629.08,91.17 625.64,89.81" fill="#111"/>
<line x1="634.1" y1="95.4" x2="660.23" y2="160.12" stroke="#666" stroke-width="0.65" stroke-dasharray="1 1.8"/>
<polygon points="662.4,165.5 658.51,160.81 661.94,159.43" fill="#111"/>
<text x="506.2" y="97.1" font-size="12" fill="#1a1a1a">CO<tspan font-size="8.2" dy="3.4">2</tspan></text>
<text x="591.2" y="99.2" font-size="12" fill="#1a1a1a">CO<tspan font-size="8.2" dy="3.4">2</tspan></text>
<text x="462.8" y="135.5" font-size="12" fill="#1a1a1a">N<tspan font-size="8.2" dy="3.4">2</tspan></text>
<text x="555.9" y="147.2" font-size="12" fill="#1a1a1a">N<tspan font-size="8.2" dy="3.4">2</tspan></text>
<text x="638" y="155.8" font-size="12" fill="#1a1a1a">N<tspan font-size="8.2" dy="3.4">2</tspan></text>
<polyline points="465.7,44.35 507,167.38 548.3,50.82 589.6,167.38 630.9,67.01 672.2,167.38" fill="none" stroke="#ff1010" stroke-width="1.5" stroke-linejoin="miter"/>
<line x1="465.7" y1="42.41" x2="465.7" y2="46.29" stroke="#ff4040" stroke-width="0.7" />
<line x1="463.4" y1="42.41" x2="468" y2="42.41" stroke="#ff5050" stroke-width="0.7" />
<line x1="463.4" y1="46.29" x2="468" y2="46.29" stroke="#ff5050" stroke-width="0.7" />
<rect x="463.3" y="41.95" width="4.8" height="4.8" fill="#ff0000"/>
<line x1="507" y1="165.3" x2="507" y2="169.45" stroke="#ff4040" stroke-width="0.7" />
<line x1="504.7" y1="165.3" x2="509.3" y2="165.3" stroke="#ff5050" stroke-width="0.7" />
<line x1="504.7" y1="169.45" x2="509.3" y2="169.45" stroke="#ff5050" stroke-width="0.7" />
<rect x="504.6" y="164.97" width="4.8" height="4.8" fill="#ff0000"/>
<line x1="548.3" y1="47.13" x2="548.3" y2="54.52" stroke="#ff4040" stroke-width="0.7" />
<line x1="546" y1="47.13" x2="550.6" y2="47.13" stroke="#ff5050" stroke-width="0.7" />
<line x1="546" y1="54.52" x2="550.6" y2="54.52" stroke="#ff5050" stroke-width="0.7" />
<rect x="545.9" y="48.42" width="4.8" height="4.8" fill="#ff0000"/>
<line x1="589.6" y1="165.3" x2="589.6" y2="169.45" stroke="#ff4040" stroke-width="0.7" />
<line x1="587.3" y1="165.3" x2="591.9" y2="165.3" stroke="#ff5050" stroke-width="0.7" />
<line x1="587.3" y1="169.45" x2="591.9" y2="169.45" stroke="#ff5050" stroke-width="0.7" />
<rect x="587.2" y="164.97" width="4.8" height="4.8" fill="#ff0000"/>
<line x1="630.9" y1="63.45" x2="630.9" y2="70.57" stroke="#ff4040" stroke-width="0.7" />
<line x1="628.6" y1="63.45" x2="633.2" y2="63.45" stroke="#ff5050" stroke-width="0.7" />
<line x1="628.6" y1="70.57" x2="633.2" y2="70.57" stroke="#ff5050" stroke-width="0.7" />
<rect x="628.5" y="64.61" width="4.8" height="4.8" fill="#ff0000"/>
<line x1="672.2" y1="165.3" x2="672.2" y2="169.45" stroke="#ff4040" stroke-width="0.7" />
<line x1="669.9" y1="165.3" x2="674.5" y2="165.3" stroke="#ff5050" stroke-width="0.7" />
<line x1="669.9" y1="169.45" x2="674.5" y2="169.45" stroke="#ff5050" stroke-width="0.7" />
<rect x="669.8" y="164.97" width="4.8" height="4.8" fill="#ff0000"/>
<polyline points="465.7,118.17 548.3,125.51 630.9,129.63" fill="none" stroke="#1414ff" stroke-width="1.5"/>
<line x1="465.7" y1="110.78" x2="465.7" y2="125.55" stroke="#5a5aff" stroke-width="0.7" />
<line x1="463.4" y1="110.78" x2="468" y2="110.78" stroke="#6a6aff" stroke-width="0.7" />
<line x1="463.4" y1="125.55" x2="468" y2="125.55" stroke="#6a6aff" stroke-width="0.7" />
<circle cx="465.7" cy="118.17" r="2.6" fill="#0000ff"/>
<line x1="548.3" y1="117.58" x2="548.3" y2="133.43" stroke="#5a5aff" stroke-width="0.7" />
<line x1="546" y1="117.58" x2="550.6" y2="117.58" stroke="#6a6aff" stroke-width="0.7" />
<line x1="546" y1="133.43" x2="550.6" y2="133.43" stroke="#6a6aff" stroke-width="0.7" />
<circle cx="548.3" cy="125.51" r="2.6" fill="#0000ff"/>
<line x1="630.9" y1="122.13" x2="630.9" y2="137.12" stroke="#5a5aff" stroke-width="0.7" />
<line x1="628.6" y1="122.13" x2="633.2" y2="122.13" stroke="#6a6aff" stroke-width="0.7" />
<line x1="628.6" y1="137.12" x2="633.2" y2="137.12" stroke="#6a6aff" stroke-width="0.7" />
<circle cx="630.9" cy="129.63" r="2.6" fill="#0000ff"/>
<line x1="609.5" y1="18.1" x2="637.5" y2="18.1" stroke="#ff2020" stroke-width="1.3" />
<rect x="621.1" y="15.7" width="4.8" height="4.8" fill="#ff0000"/>
<text x="640.5" y="22.35" font-size="12" text-anchor="start" font-weight="normal" fill="#1a1a1a" >Foam volume</text>
<line x1="609.5" y1="33" x2="637.5" y2="33" stroke="#2020ff" stroke-width="1.3" />
<circle cx="623.2" cy="33" r="2.6" fill="#0000ff"/>
<text x="640.5" y="37.3" font-size="12" text-anchor="start" font-weight="normal" fill="#1a1a1a" >Half life</text></svg>
</body></html>
